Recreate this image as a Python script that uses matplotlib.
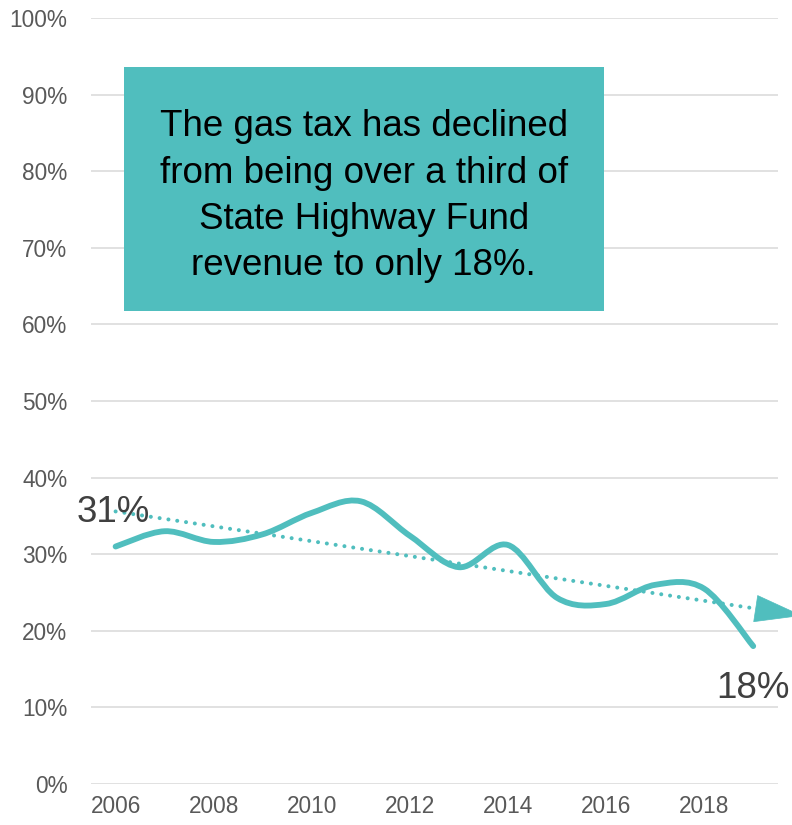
import matplotlib.pyplot as plt
import numpy as np
from matplotlib.path import Path
from matplotlib.patches import PathPatch, Rectangle

# gas tax share of State Highway Fund revenue (%)
years = [2006, 2007, 2008, 2009, 2010, 2011, 2012, 2013, 2014, 2015, 2016, 2017, 2018, 2019]
gas_share = [31.0, 33.0, 31.6, 32.6, 35.4, 36.9, 32.4, 28.3, 31.2, 24.3, 23.5, 26.0, 25.5, 18.0]
tick_years = [2006, 2008, 2010, 2012, 2014, 2016, 2018]
y_ticks = list(range(0, 101, 10))
note = "The gas tax has declined\nfrom being over a third of\nState Highway Fund\nrevenue to only 18%."
first_label = "31%"
last_label = "18%"

teal = "#50BEBE"
grey_txt = "#595959"

plt.rcParams["font.family"] = ["Liberation Sans", "DejaVu Sans"]

fig = plt.figure(figsize=(7.92, 8.25), dpi=100)
ax = fig.add_axes([0.115, 0.0497, 0.867, 0.9285])

x = np.array(years, dtype=float)
y = np.array(gas_share)

# smoothed line: cubic bezier segments through each point (catmull-rom style)
px = np.concatenate([[x[0]], x, [x[-1]]])
py = np.concatenate([[y[0]], y, [y[-1]]])
verts = [(x[0], y[0])]
codes = [Path.MOVETO]
for i in range(1, len(px) - 2):
    c1 = (px[i] + (px[i + 1] - px[i - 1]) / 6, py[i] + (py[i + 1] - py[i - 1]) / 6)
    c2 = (px[i + 1] - (px[i + 2] - px[i]) / 6, py[i + 1] - (py[i + 2] - py[i]) / 6)
    verts += [c1, c2, (px[i + 1], py[i + 1])]
    codes += [Path.CURVE4] * 3
ax.add_patch(PathPatch(Path(verts, codes), fill=False, edgecolor=teal,
                       lw=4.2, capstyle="round", joinstyle="round", zorder=3))

# linear trend, carried one year forward, ending in an arrow head
slope, icpt = np.polyfit(x, y, 1)
tx = np.array([x[0], x[-1] + 1])
ty = slope * tx + icpt
tip = (tx[1], ty[1])
base_x = tx[1] - 0.95
base = (base_x, slope * base_x + icpt)
ax.plot([tx[0], base[0]], [ty[0], base[1]], color=teal, lw=2.9,
        linestyle=(0, (0.01, 2.2)), dash_capstyle="round", zorder=2, clip_on=False)
ax.annotate("", xy=tip, xytext=(base_x + 0.3, slope * (base_x + 0.3) + icpt),
            arrowprops=dict(arrowstyle="-|>,head_length=3.3,head_width=0.95",
                            mutation_scale=10, color=teal, lw=0.5,
                            shrinkA=0, shrinkB=0),
            annotation_clip=False, zorder=2)

# end labels
ax.text(x[0] - 0.05, 35.5, first_label, fontsize=26.5, color="#404040",
        ha="center", va="center", zorder=4)
ax.text(x[-1] + 0.0, 12.5, last_label, fontsize=26.5, color="#404040",
        ha="center", va="center", zorder=4)

# callout box
ax.add_patch(Rectangle((0.048, 0.6175), 0.699, 0.3185, transform=ax.transAxes,
                       facecolor=teal, edgecolor="none", zorder=4))
ax.text(0.397, 0.767, note, transform=ax.transAxes, fontsize=26.5, color="black",
        ha="center", va="center", linespacing=1.42, zorder=5)

ax.set_xlim(2005.5, 2019.5)
ax.set_ylim(0, 100)
ax.set_xticks(tick_years)
ax.set_xticklabels([str(t) for t in tick_years])
ax.set_yticks(y_ticks)
ax.set_yticklabels([f"{t}%" for t in y_ticks])
ax.tick_params(length=0, labelsize=16.3, labelcolor=grey_txt)
ax.tick_params(axis="y", pad=17)
ax.tick_params(axis="x", pad=8)
ax.grid(axis="y", color="#D9D9D9", lw=1.1)
ax.set_axisbelow(True)
for s in ax.spines.values():
    s.set_visible(False)

fig.savefig("out.png", dpi=100)
